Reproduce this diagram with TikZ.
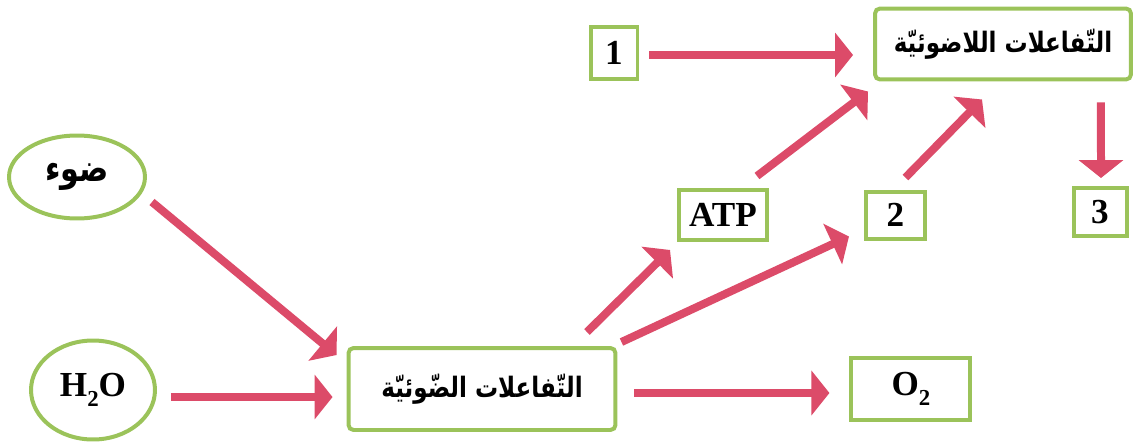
\documentclass[tikz,border=0pt]{standalone}
\usepackage{fontspec}
\setmainfont{Liberation Serif}
\newfontfamily\arabicfont[Script=Arabic, FakeStretch=0.82]{DejaVu Sans}
\TeXXeTstate=1
\usepackage{tikz}
\usetikzlibrary{positioning}
\usetikzlibrary{arrows.meta}
\usetikzlibrary{shapes.geometric}

\definecolor{leafgreen}{HTML}{9BC35A}
\definecolor{flowpink}{HTML}{DC4B69}

\newcommand{\lowtwo}{\raisebox{-0.6ex}{\fontsize{13}{13}\selectfont 2}}

\tikzset{
    box/.style={draw=leafgreen, line width=0.08cm, inner sep=0pt, font=\fontsize{20}{24}\selectfont\bfseries},
    bigbox/.style={box, rounded corners=0.1cm, font=\arabicfont\fontsize{16}{20}\selectfont\bfseries},
    bubble/.style={draw=leafgreen, line width=0.08cm, ellipse, inner sep=0pt},
    flow/.style={draw=flowpink, line width=0.16cm, -{Triangle[length=0.36cm, width=0.88cm]}},
}

\begin{document}
\begin{tikzpicture}[x=0.02cm, y=-0.02cm]

    \useasboundingbox (0,0) rectangle (1137,444);

    \node[bubble, minimum width=2.72cm, minimum height=1.66cm, font=\arabicfont\fontsize{21}{24}\selectfont\bfseries] (sun) at (77,177) {\raisebox{-0.5ex}{\beginR ضوء\endR}};
    \node[bubble, minimum width=2.48cm, minimum height=1.98cm, font=\fontsize{20}{24}\selectfont\bfseries] (water) at (93,390) {H\lowtwo O};

    \node[bigbox, minimum width=5.34cm, minimum height=1.64cm] (light) at (482,389) {\beginR التّفاعلات الضّوئيّة\endR};
    \node[box, minimum width=2.38cm, minimum height=1.24cm, right=4.64cm of light] (otwo) {O\lowtwo};

    \node[box, minimum width=1.76cm, minimum height=1.0cm] (atp) at (723,215) {ATP};
    \node[box, minimum width=1.18cm, minimum height=0.94cm, right=1.9cm of atp] (two) {2};

    \node[box, minimum width=0.94cm, minimum height=1.04cm] (one) at (614,53) {1};
    \node[bigbox, minimum width=5.12cm, minimum height=1.42cm] (dark) at (1003,44) {\beginR التّفاعلات اللاضوئيّة\endR};
    \node[box, minimum width=1.06cm, minimum height=0.96cm] (three) at (1100,212) {3};

    \draw[flow] ([shift={(5,25)}]sun.east) -- ([shift={(-10,9)}]light.north west);
    \draw[flow] ([shift={(14,7)}]water.east) -- ([shift={(-14,8)}]light.west);
    \draw[flow] ([shift={(17,4)}]light.east) -- ([shift={(-20,4)}]otwo.west);
    \draw[flow] ([shift={(105,-14)}]light.north) -- ([shift={(-7,8)}]atp.south west);
    \draw[flow] ([shift={(4,-4)}]light.north east) -- ([shift={(-15,-4)}]two.south west);
    \draw[flow] ([shift={(-12,-12)}]atp.north east) -- ([shift={(-5,10)}]dark.south west);
    \draw[flow] ([shift={(10,-12)}]two.north) -- ([shift={(-21,18)}]dark.south);
    \draw[flow] ([shift={(10,2)}]one.east) -- ([shift={(-20,11)}]dark.west);
    \draw[flow] ([shift={(-32,21)}]dark.south east) -- ([shift={(1,-8)}]three.north);

\end{tikzpicture}
\end{document}
